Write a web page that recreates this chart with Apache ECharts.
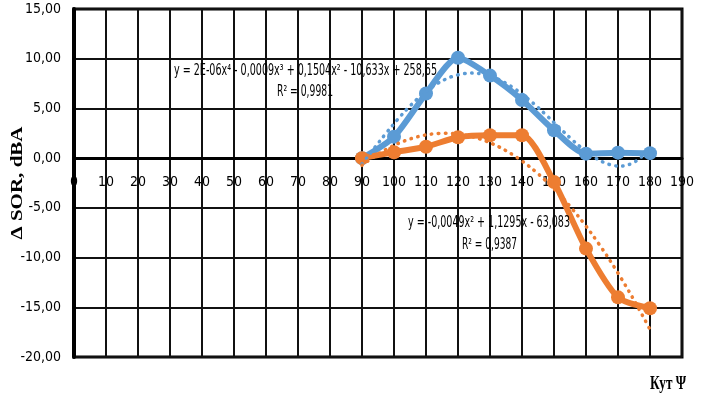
<!DOCTYPE html>
<html>
<head>
<meta charset="utf-8">
<script src="https://cdn.jsdelivr.net/npm/echarts@6.0.0/dist/echarts.min.js"></script>
<style>
  html, body { margin: 0; padding: 0; background: #fff; }
  #chart { width: 706px; height: 398px; }
</style>
</head>
<body>
<div id="chart"></div>
<script>
// Measured angles (deg) and ΔSOR values (dBA)
const angles = [90, 100, 110, 120, 130, 140, 150, 160, 170, 180];
const sorBlue = [0.0, 2.15, 6.5, 10.1, 8.3, 5.85, 2.8, 0.45, 0.55, 0.5];
const sorOrange = [0.0, 0.6, 1.15, 2.1, 2.3, 2.3, -2.4, -9.1, -14.0, -15.1];

// Axis ranges and ticks
const xMin = 0, xMax = 190, xStep = 10;
const yMin = -20, yMax = 15, yStep = 5;

// Trendline annotations
const blueEquation = 'y = 2E-06x\u2074 - 0,0009x\u00B3 + 0,1504x\u00B2 - 10,633x + 258,65';
const blueR2 = 'R\u00B2 = 0,9981';
const orangeEquation = 'y = -0,0049x\u00B2 + 1,1295x - 63,083';
const orangeR2 = 'R\u00B2 = 0,9387';
const yTitle = '\u0394 SOR, dBA';
const xTitle = 'Кут \u03A8';

const BLUE = '#5B9BD5';
const ORANGE = '#ED7D31';
const NARROW = "'Liberation Sans Narrow', 'DejaVu Sans Condensed', sans-serif";
const SERIF = "'Liberation Serif', 'DejaVu Serif', serif";

// Least-squares polynomial regression (centred for numerical stability)
function polyFit(xs, ys, deg) {
  const c = xs.reduce((a, b) => a + b, 0) / xs.length;
  const s = 10;
  const n = deg + 1;
  const A = Array.from({ length: n }, () => new Array(n + 1).fill(0));
  xs.forEach((x, k) => {
    const t = (x - c) / s;
    for (let i = 0; i < n; i++) {
      for (let j = 0; j < n; j++) A[i][j] += Math.pow(t, i + j);
      A[i][n] += ys[k] * Math.pow(t, i);
    }
  });
  for (let i = 0; i < n; i++) {
    let p = i;
    for (let r = i + 1; r < n; r++) if (Math.abs(A[r][i]) > Math.abs(A[p][i])) p = r;
    [A[i], A[p]] = [A[p], A[i]];
    for (let r = 0; r < n; r++) {
      if (r === i) continue;
      const f = A[r][i] / A[i][i];
      for (let j = i; j <= n; j++) A[r][j] -= f * A[i][j];
    }
  }
  const coef = A.map((row, i) => row[n] / row[i]);
  return x => {
    const t = (x - c) / s;
    return coef.reduce((acc, a, i) => acc + a * Math.pow(t, i), 0);
  };
}

function trendData(xs, ys, deg) {
  const f = polyFit(xs, ys, deg);
  const out = [];
  for (let x = xs[0]; x <= xs[xs.length - 1]; x += 1) out.push([x, f(x)]);
  return out;
}

// Width-fitted text helper
const measureCtx = document.createElement('canvas').getContext('2d');
function fittedText(text, size, weight, family, x, y, width, opts) {
  measureCtx.font = weight + ' ' + size + 'px ' + family;
  const w = measureCtx.measureText(text).width;
  const o = opts || {};
  return {
    type: 'text',
    x: x, y: y,
    rotation: o.rotation || 0,
    scaleX: width / w,
    z: 100,
    style: {
      text: text,
      fontSize: size,
      fontWeight: weight,
      fontFamily: family,
      fill: '#000',
      align: o.align || 'left',
      verticalAlign: 'middle'
    }
  };
}

const pairs = (xs, ys) => xs.map((x, i) => [x, ys[i]]);

const chart = echarts.init(document.getElementById('chart'), null, { renderer: 'canvas' });

const dotted = { width: 3.5, type: [0.5, 6.5], cap: 'round' };
const plotLeft = 74, plotRight = 24, plotTop = 9, plotBottom = 41;
// Upper half of the plot (down to y = 0), used to carry the angle labels under the zero line
const zeroLineY = 158;

chart.setOption({
  animation: false,
  backgroundColor: '#fff',
  grid: [
    {
      left: plotLeft, right: plotRight, top: plotTop, bottom: plotBottom,
      show: true, borderColor: '#000', borderWidth: 3
    },
    {
      left: plotLeft, right: plotRight, top: plotTop, height: zeroLineY - plotTop,
      show: false
    }
  ],
  xAxis: [
    {
      gridIndex: 0,
      type: 'value',
      min: xMin, max: xMax, interval: xStep,
      axisLine: { show: false },
      axisTick: { show: false },
      axisLabel: { show: false },
      splitLine: { show: true, lineStyle: { color: '#111', width: 2 } }
    },
    {
      gridIndex: 1,
      type: 'value',
      min: xMin, max: xMax, interval: xStep,
      axisLine: { show: true, lineStyle: { color: '#000', width: 3 } },
      axisTick: { show: false },
      axisLabel: { color: '#000', fontFamily: NARROW, fontSize: 14, margin: 17 },
      splitLine: { show: false }
    }
  ],
  yAxis: [
    {
      gridIndex: 0,
      type: 'value',
      min: yMin, max: yMax, interval: yStep,
      axisLine: { show: true, onZero: false, lineStyle: { color: '#000', width: 4 } },
      axisTick: { show: false },
      axisLabel: {
        color: '#000', fontFamily: NARROW, fontSize: 14, margin: 13,
        formatter: v => v.toFixed(2).replace('.', ',')
      },
      splitLine: { show: true, lineStyle: { color: '#111', width: 2 } }
    },
    {
      gridIndex: 1,
      type: 'value',
      min: 0, max: yMax,
      show: false
    }
  ],
  series: [
    {
      type: 'line', name: 'blue',
      data: pairs(angles, sorBlue),
      smooth: 0.25,
      symbol: 'circle', symbolSize: 14,
      lineStyle: { color: BLUE, width: 6 },
      itemStyle: { color: BLUE },
      z: 3
    },
    {
      type: 'line', name: 'orange',
      data: pairs(angles, sorOrange),
      smooth: 0.25,
      symbol: 'circle', symbolSize: 14,
      lineStyle: { color: ORANGE, width: 6 },
      itemStyle: { color: ORANGE },
      z: 3
    },
    {
      type: 'line', name: 'blue trend',
      data: trendData(angles, sorBlue, 4),
      smooth: true, showSymbol: false,
      lineStyle: Object.assign({ color: BLUE }, dotted),
      z: 4
    },
    {
      type: 'line', name: 'orange trend',
      data: trendData(angles, sorOrange, 2),
      smooth: true, showSymbol: false,
      lineStyle: Object.assign({ color: ORANGE }, dotted),
      z: 4
    }
  ],
  graphic: [
    fittedText(blueEquation, 15, 'normal', NARROW, 174, 71, 263),
    fittedText(blueR2, 15, 'normal', NARROW, 277, 92, 56),
    fittedText(orangeEquation, 15, 'normal', NARROW, 408, 223, 162),
    fittedText(orangeR2, 15, 'normal', NARROW, 462, 245, 55),
    fittedText(yTitle, 17, 'bold', SERIF, 18, 183, 113, { rotation: Math.PI / 2, align: 'center' }),
    fittedText(xTitle, 18, 'bold', SERIF, 650, 384, 36)
  ]
});
</script>
</body>
</html>
